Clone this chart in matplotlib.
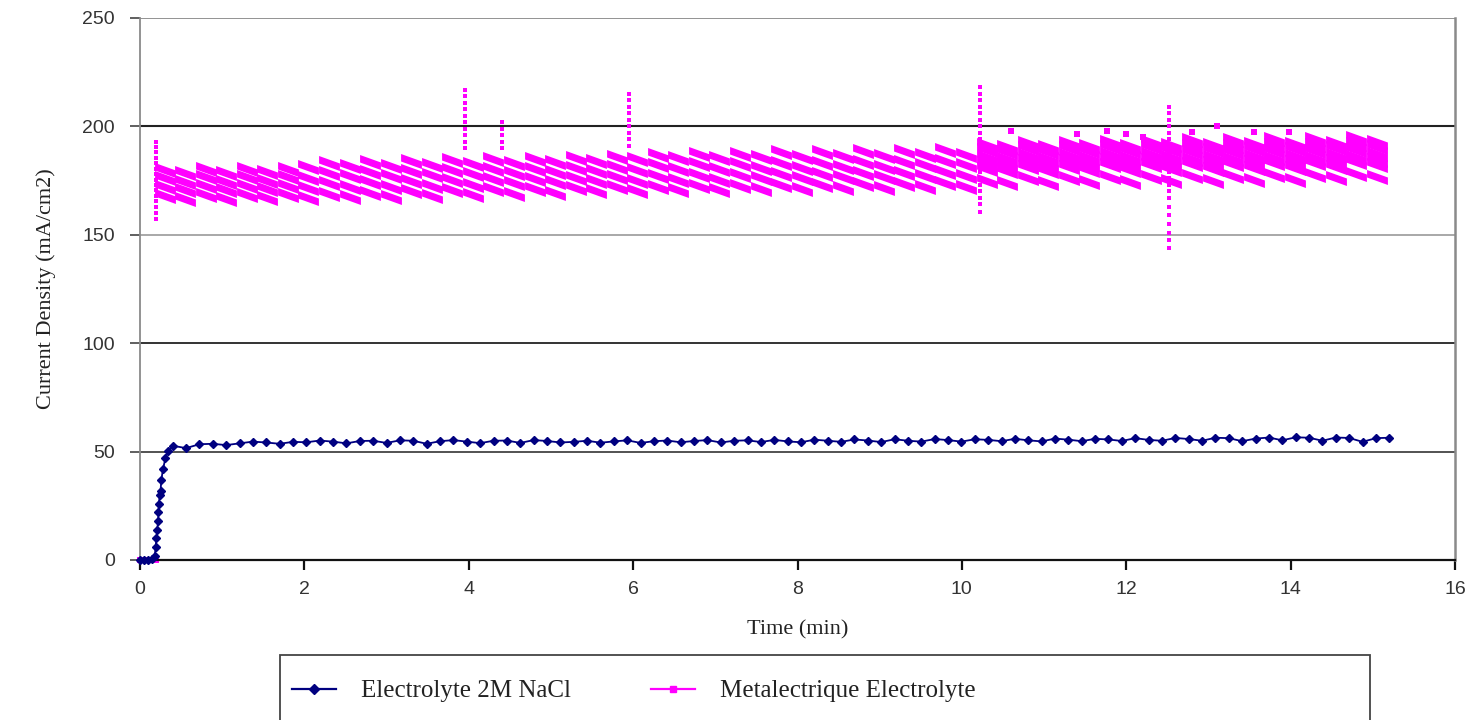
import numpy as np
import matplotlib
matplotlib.use("Agg")
import matplotlib.pyplot as plt
from matplotlib.path import Path
from matplotlib.lines import Line2D
from matplotlib.patches import Rectangle

# ---------------- data ----------------
# Electrolyte 2M NaCl (blue) - start-up ramp
nacl_rise_t = [0.0, 0.05, 0.10, 0.15, 0.18, 0.19, 0.20, 0.21, 0.22, 0.225, 0.23,
               0.24, 0.25, 0.26, 0.28, 0.31, 0.345, 0.40]
nacl_rise_v = [0, 0, 0, 0.5, 2, 6, 10, 14, 18, 22, 26, 30, 32, 37, 42, 47, 50.5, 52.7]
# Electrolyte 2M NaCl (blue) - plateau, sampled from 0.56 to 15.2 min
nacl_plateau_v = [51.6, 53.4, 53.6, 53.0, 53.8, 54.6, 54.2, 53.6, 54.5, 54.3, 55.1, 54.6,
                  53.8, 54.9, 55.0, 54.0, 55.2, 55.0, 53.6, 54.8, 55.3, 54.6, 53.9, 55.0,
                  55.1, 54.0, 55.3, 54.9, 54.2, 54.5, 55.0, 54.1, 54.7, 55.2, 54.0, 54.8,
                  55.1, 54.3, 54.9, 55.3, 54.2, 55.0, 55.2, 54.4, 55.4, 54.7, 54.3, 55.5,
                  55.0, 54.5, 55.6, 55.1, 54.4, 55.7, 55.0, 54.6, 55.8, 55.3, 54.6, 55.7,
                  55.4, 54.8, 55.9, 55.2, 54.7, 56.0, 55.5, 54.8, 55.9, 55.6, 54.9, 56.2,
                  55.4, 55.0, 56.3, 55.8, 55.0, 56.4, 56.2, 54.8, 56.0, 56.5, 55.2, 56.6,
                  56.4, 55.0, 56.5, 56.3, 54.5, 56.2, 56.4]
nacl_plateau_start, nacl_plateau_end = 0.56, 15.2

# Metalectrique Electrolyte (magenta): banded readings at 0.25 min columns
met_t0, met_dt = 0.30, 0.25
met_layer1 = [168, 166.5, 168.5, 166.5, 168.5, 167, 168.5, 167, 169, 167.5, 169.5, 167.5,
              170, 168, 170.5, 168.5, 171, 169, 171, 169.5, 171.5, 170, 172, 170, 172,
              170.5, 172.5, 170.5, 172.5, 171, 173, 171, 173, 171.5, 173.5, 171.5, 173.5,
              172, 174, 172, 175, 174, 176, 174, 176, 174.5, 176.5, 174.5, 176.5, 175, 177,
              175, 177, 175.5, 177.5, 175.5, 177.5, 176, 178, 176.5]
met_layer2 = [172, 170.5, 172.5, 170.5, 172.5, 171, 172.5, 171.7, 173.7, 172.2, 174.2, 172.2,
              174.7, 172.7, 175.2, 173.2, 175.7, 173.7, 175.7, 174.2, 176.2, 174.7, 176.7,
              175, 177, 175.5, 177.5, 175.5, 177.5, 176, 178, 176, 178, 176.5, 178.5, 176.5,
              178.5, 177, 179, 177, 180.5, 179.5, 181.5, 179.5, 181.5, 180, 182, 180, 182,
              180.5, 182.5, 180.5, 182.5, 181, 183, 181, 183, 181.5, 183.5, 182]
met_layer3 = [176, 174.5, 176.5, 174.5, 176.5, 175, 176.5, 176.4, 178.4, 176.9, 178.9, 176.9,
              179.4, 177.4, 179.9, 177.9, 180.4, 178.4, 180.4, 178.9, 180.9, 179.4, 181.4,
              180, 182, 180.5, 182.5, 180.5, 182.5, 181, 183, 181, 183, 181.5, 183.5, 181.5,
              183.5, 182, 184, 182, 186, 185, 187, 185, 187, 185.5, 187.5, 185.5, 187.5,
              186, 188, 186, 188, 186.5, 188.5, 186.5, 188.5, 187, 189, 187.5]
met_layer4 = [180, 178.5, 180.5, 178.5, 180.5, 179, 180.5, 181.1, 183.1, 181.6, 183.6, 181.6,
              184.1, 182.1, 184.6, 182.6, 185.1, 183.1, 185.1, 183.6, 185.6, 184.1, 186.1,
              185, 187, 185.5, 187.5, 185.5, 187.5, 186, 188, 186, 188, 186.5, 188.5, 186.5,
              188.5, 187, 189, 187, 191.5, 190.5, 192.5, 190.5, 192.5, 191, 193, 191, 193,
              191.5, 193.5, 191.5, 193.5, 192, 194, 192, 194, 192.5, 194.5, 193]
# denser readings after 10.3 min
met_late_t0 = 10.30
met_late_a = [183, 182, 184, 182, 184, 182.5, 184.5, 182.5, 184.5, 183, 185, 183, 185,
              183.5, 185.5, 183.5, 185.5, 184, 186, 184.5]
met_late_b = [189, 188, 190, 188, 190, 188.5, 190.5, 188.5, 190.5, 189, 191, 189, 191,
              189.5, 191.5, 189.5, 191.5, 190, 192, 190.5]
# transient spikes (time, readings)
spike_times = [0.20, 3.95, 4.40, 5.95, 10.22, 12.52]
spike_values = [
    [193, 190.5, 188, 185.5, 183, 180.5, 178, 175.5, 173, 170.5, 168, 165.5, 163, 160, 157.5],
    [217, 214, 211, 208, 205, 202, 199, 196, 193, 190],
    [202, 199, 196, 193, 190],
    [215, 212, 209, 206, 203, 200, 197, 194, 191],
    [218, 215, 212, 209, 206, 203, 200, 197, 194, 191, 188, 185, 182, 179, 176, 173,
     170, 167, 164, 160.5],
    [209, 206, 203, 200, 197, 194, 191, 188, 185, 182, 179, 176, 173, 170, 167, 163,
     159, 155, 151, 147.5, 144],
]
outlier_t = [10.60, 11.40, 11.76, 12.00, 12.20, 12.80, 13.10, 13.55, 13.98]
outlier_v = [198, 196.5, 198, 196.5, 195, 197.5, 200.3, 197.5, 197.5]
met_start_t = [0.0, 0.05, 0.10, 0.15, 0.19]
met_start_v = [0, 0, 0, 0, 0]

x_ticks = [0, 2, 4, 6, 8, 10, 12, 14, 16]
y_ticks = [0, 50, 100, 150, 200, 250]
label_nacl = "Electrolyte 2M NaCl"
label_met = "Metalectrique Electrolyte"

# ---------------- figure ----------------
NAVY = "#000080"
MAG = "#FF00FF"
SERIF = "Liberation Serif"
SANS = "Liberation Sans"

fig = plt.figure(figsize=(14.75, 7.2), dpi=100)
ax = fig.add_axes([140 / 1475, 1 - 560 / 720, (1455 - 140) / 1475, (560 - 18) / 720])
ax.set_xlim(0, 16)
ax.set_ylim(0, 250)

# horizontal grid lines
grid_style = {50: ("#444444", 1.3), 100: ("#333333", 1.4), 150: ("#9a9a9a", 1.2),
              200: ("#222222", 1.5), 250: ("#8a8a8a", 1.3)}
for yv in y_ticks[1:]:
    c, lw = grid_style[yv]
    ax.axhline(yv, color=c, lw=lw, zorder=1)

# magenta dashes (slanted bars)
dash = Path([(-1, 0.72), (1, 0.0), (1, -0.72), (-1, 0.0), (-1, 0.72)],
            [Path.MOVETO, Path.LINETO, Path.LINETO, Path.LINETO, Path.CLOSEPOLY])
met_t = met_t0 + met_dt * np.arange(len(met_layer1))
for layer in (met_layer1, met_layer2, met_layer3, met_layer4):
    ax.plot(met_t, layer, linestyle="none", marker=dash, ms=15, color=MAG,
            markeredgewidth=0, zorder=2)
late_t = met_late_t0 + met_dt * np.arange(len(met_late_a))
for layer in (met_late_a, met_late_b):
    ax.plot(late_t, layer, linestyle="none", marker=dash, ms=15, color=MAG,
            markeredgewidth=0, zorder=2)
for st, sv in zip(spike_times, spike_values):
    ax.plot([st] * len(sv), sv, linestyle="none", marker="s", ms=3.4, color=MAG,
            markeredgewidth=0, zorder=2)
ax.plot(outlier_t, outlier_v, linestyle="none", marker="s", ms=4.2, color=MAG,
        markeredgewidth=0, zorder=2)
ax.plot(met_start_t, met_start_v, linestyle="-", lw=1.5, marker="s", ms=4, color=MAG,
        markeredgewidth=0, zorder=2, clip_on=False)

# blue series
nacl_t = list(nacl_rise_t) + list(np.linspace(nacl_plateau_start, nacl_plateau_end,
                                                len(nacl_plateau_v)))
nacl_v = list(nacl_rise_v) + list(nacl_plateau_v)
ax.plot(nacl_t, nacl_v, color=NAVY, lw=1.3, marker="D", ms=4.0, mec=NAVY, zorder=3,
        clip_on=False)

# spines / ticks
ax.spines["top"].set_visible(False)
ax.spines["left"].set_color("#8a8a8a")
ax.spines["left"].set_linewidth(1.3)
ax.spines["right"].set_color("#8a8a8a")
ax.spines["right"].set_linewidth(1.8)
ax.spines["bottom"].set_color("#111111")
ax.spines["bottom"].set_linewidth(1.6)
ax.set_xticks(x_ticks)
ax.set_yticks(y_ticks)
ax.tick_params(axis="y", direction="out", length=7, width=1.2, color="#444444",
               labelsize=14, labelcolor="#333333", pad=11)
ax.tick_params(axis="x", direction="out", length=7, width=1.6, color="#111111",
               labelsize=14, labelcolor="#333333", pad=8)
for lab in ax.get_xticklabels() + ax.get_yticklabels():
    lab.set_fontfamily(SANS)

ax.set_xlabel("Time (min)", fontfamily=SERIF, fontsize=16, color="#222222", labelpad=16)
ax.set_ylabel("Current Density (mA/cm2)", fontfamily=SERIF, fontsize=16,
              color="#222222", labelpad=19)

# legend box (cut by the bottom of the figure)
fig.patches.append(Rectangle((280 / 1475, -0.06), (1370 - 280) / 1475,
                             (1 - 655 / 720) + 0.06, transform=fig.transFigure,
                             facecolor="white", edgecolor="#444444", lw=1.3, zorder=0))
handles = [Line2D([], [], color=NAVY, lw=1.6, marker="D", ms=5, mec=NAVY),
           Line2D([], [], color=MAG, lw=1.6, marker="s", ms=5, mec=MAG)]
fig.legend(handles, [label_nacl, label_met], loc="center left",
           bbox_to_anchor=(292 / 1475, 1 - 691 / 720), frameon=False, ncol=2,
           prop={"family": SERIF, "size": 18}, handlelength=1.75, handletextpad=1.0,
           columnspacing=3.2, borderpad=0, borderaxespad=0, labelcolor="#222222")

fig.savefig("out.png", dpi=100)
